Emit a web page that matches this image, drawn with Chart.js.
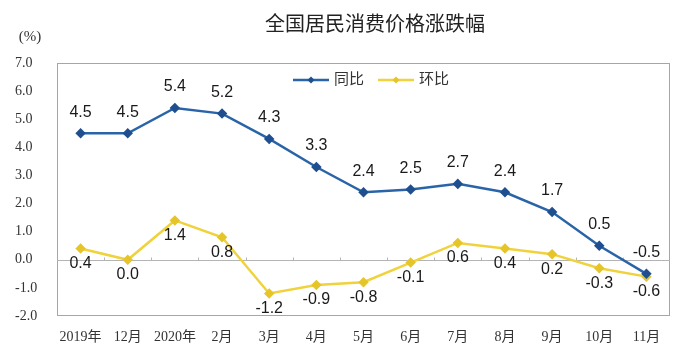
<!DOCTYPE html>
<html>
<head>
<meta charset="utf-8">
<script src="https://cdn.jsdelivr.net/npm/chart.js@4.4.1/dist/chart.umd.min.js"></script>
<style>
  html, body { margin: 0; padding: 0; background: #fff; }
  #wrap { width: 699px; height: 350px; position: relative; }
</style>
</head>
<body>
<div id="wrap"><canvas id="cpi"></canvas></div>
<script>
const months = [['2019年', '11月'], '12月', ['2020年', '1月'], '2月', '3月', '4月', '5月', '6月', '7月', '8月', '9月', '10月', '11月'];
const yoy = [4.5, 4.5, 5.4, 5.2, 4.3, 3.3, 2.4, 2.5, 2.7, 2.4, 1.7, 0.5, -0.5];
const mom = [0.4, 0.0, 1.4, 0.8, -1.2, -0.9, -0.8, -0.1, 0.6, 0.4, 0.2, -0.3, -0.6];
const seriesNames = ['同比', '环比'];
const titleText = '全国居民消费价格涨跌幅';
const unitText = '(%)';

const blue = '#2a64a8';
const blueDark = '#1f4f8f';
const yellow = '#f0d23c';
const yellowDark = '#e6c52a';
const serif = "'Liberation Serif', 'Noto Sans CJK SC', serif";
const sans = "'Liberation Sans', 'Noto Sans CJK SC', sans-serif";

const decor = {
    id: 'decor',
    beforeDatasetsDraw(chart) {
        const { ctx, chartArea: a, scales: { x, y } } = chart;
        ctx.save();
        // frame round the plot
        ctx.strokeStyle = '#a6a6a6';
        ctx.lineWidth = 1;
        ctx.strokeRect(a.left + 0.5, a.top + 0.5, a.width - 1, a.height - 1);

        // zero line with small category ticks
        const y0 = Math.round(y.getPixelForValue(0)) + 0.5;
        ctx.strokeStyle = '#b4b4b4';
        ctx.beginPath();
        ctx.moveTo(a.left, y0);
        ctx.lineTo(a.right, y0);
        for (let i = 1; i < months.length; i++) {
            const bx = Math.round((x.getPixelForValue(i - 1) + x.getPixelForValue(i)) / 2) + 0.5;
            ctx.moveTo(bx, y0);
            ctx.lineTo(bx, y0 - 3);
        }
        ctx.stroke();
        ctx.restore();
    },
    afterDatasetsDraw(chart) {
        const ctx = chart.ctx;
        ctx.save();
        ctx.font = '16px ' + sans;
        ctx.fillStyle = '#1a1a1a';
        ctx.textAlign = 'center';
        ctx.textBaseline = 'middle';
        chart.data.datasets.forEach((ds, di) => {
            const meta = chart.getDatasetMeta(di);
            meta.data.forEach((pt, i) => {
                const off = di === 0 ? -21 : 15;
                ctx.fillText(ds.data[i].toFixed(1), pt.x, pt.y + off);
            });
        });

        // title and unit
        ctx.font = '20px ' + sans;
        ctx.fillStyle = '#222';
        ctx.fillText(titleText, 375, 25);
        ctx.font = '15px ' + serif;
        ctx.fillStyle = '#333';
        ctx.fillText(unitText, 30, 37);

        // legend inside the plot
        const items = [
            { x: 293, color: blue, dot: blueDark },
            { x: 378, color: yellow, dot: yellowDark }
        ];
        ctx.font = '15px ' + sans;
        ctx.textAlign = 'left';
        items.forEach((it, i) => {
            const ly = 80;
            ctx.strokeStyle = it.color;
            ctx.lineWidth = 2.5;
            ctx.beginPath();
            ctx.moveTo(it.x, ly);
            ctx.lineTo(it.x + 36, ly);
            ctx.stroke();
            ctx.fillStyle = it.dot;
            ctx.beginPath();
            const cx = it.x + 18;
            ctx.moveTo(cx, ly - 3.5);
            ctx.lineTo(cx + 3.5, ly);
            ctx.lineTo(cx, ly + 3.5);
            ctx.lineTo(cx - 3.5, ly);
            ctx.closePath();
            ctx.fill();
            ctx.fillStyle = '#333';
            ctx.fillText(seriesNames[i], it.x + 41, ly);
        });
        ctx.restore();
    }
};

new Chart(document.getElementById('cpi'), {
    type: 'line',
    data: {
        labels: months,
        datasets: [
            {
                label: seriesNames[0],
                data: yoy,
                borderColor: blue,
                borderWidth: 2.5,
                pointStyle: 'rectRot',
                pointRadius: 3.5,
                pointBackgroundColor: blueDark,
                pointBorderColor: blueDark,
                tension: 0,
                clip: false
            },
            {
                label: seriesNames[1],
                data: mom,
                borderColor: yellow,
                borderWidth: 2.5,
                pointStyle: 'rectRot',
                pointRadius: 3.5,
                pointBackgroundColor: yellowDark,
                pointBorderColor: yellowDark,
                tension: 0,
                clip: false
            }
        ]
    },
    options: {
        responsive: true,
        maintainAspectRatio: false,
        animation: false,
        layout: { padding: { left: 15, right: 29, top: 63, bottom: 0 } },
        plugins: {
            legend: { display: false },
            title: { display: false },
            tooltip: { enabled: false }
        },
        scales: {
            x: {
                offset: true,
                grid: { display: false, drawTicks: false },
                border: { display: false },
                ticks: {
                    font: { family: serif, size: 14, lineHeight: 1.45 },
                    color: '#333',
                    padding: 11,
                    maxRotation: 0,
                    autoSkip: false
                },
                afterFit(scale) { scale.height = 34; }
            },
            y: {
                min: -2,
                max: 7,
                grid: { display: false, drawTicks: false },
                border: { display: false },
                ticks: {
                    stepSize: 1,
                    crossAlign: 'far',
                    font: { family: serif, size: 14 },
                    color: '#333',
                    callback: v => v.toFixed(1)
                },
                afterFit(scale) { scale.width = 42; }
            }
        }
    },
    plugins: [decor]
});
</script>
</body>
</html>
